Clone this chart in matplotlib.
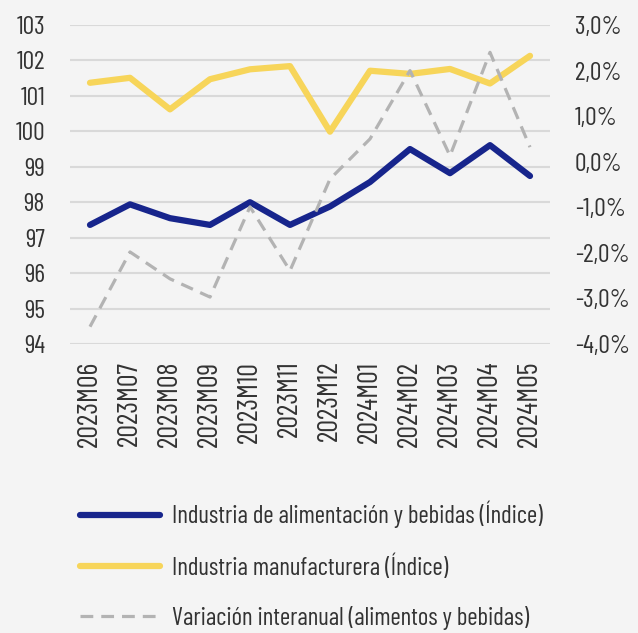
import matplotlib
matplotlib.use("Agg")
import matplotlib.pyplot as plt
from matplotlib.ticker import FuncFormatter

plt.rcParams['font.family'] = ['Barlow Condensed', 'DejaVu Sans']

meses = ['2023M06', '2023M07', '2023M08', '2023M09', '2023M10', '2023M11',
         '2023M12', '2024M01', '2024M02', '2024M03', '2024M04', '2024M05']
alimentacion = [97.36, 97.94, 97.55, 97.36, 98.00, 97.36,
                97.88, 98.57, 99.50, 98.82, 99.61, 98.74]
manufacturera = [101.37, 101.51, 100.62, 101.47, 101.75, 101.84,
                 99.99, 101.71, 101.62, 101.76, 101.35, 102.13]
variacion = [-3.62, -1.98, -2.57, -2.97, -0.99, -2.39,
             -0.38, 0.50, 2.00, 0.13, 2.40, 0.32]

bg = '#f4f4f4'
azul = '#17258c'
amarillo = '#f7d55a'
gris = '#b3b3b3'
texto = '#333333'
fs = 18.5

fig = plt.figure(figsize=(6.38, 6.33), dpi=100, facecolor=bg)
ax = fig.add_axes([70/638, 1-344/633, 480/638, 319/633], facecolor=bg)
ax2 = ax.twinx()

x = range(len(meses))
l1, = ax.plot(x, alimentacion, color=azul, lw=4.5, solid_capstyle='round', zorder=3)
l2, = ax.plot(x, manufacturera, color=amarillo, lw=4.5, solid_capstyle='round', zorder=3)
l3, = ax2.plot(x, variacion, color=gris, lw=2.3, dashes=(4, 2.5))

ax.set_ylim(94, 103)
ax.set_yticks(range(94, 104))
ax2.set_ylim(-4, 3)
ax2.set_yticks(range(-4, 4))
ax2.yaxis.set_major_formatter(FuncFormatter(lambda v, _: f'{v:.1f}%'.replace('.', ',')))
ax.set_xlim(-0.5, len(meses)-0.5)
ax.set_xticks(list(x))
ax.set_xticklabels(meses, rotation=90)

ax.grid(axis='y', color='#d9d9d9', lw=1.5)
ax.set_axisbelow(True)
for a in (ax, ax2):
    for s in a.spines.values():
        s.set_visible(False)
    a.tick_params(length=0, labelsize=fs, colors=texto)
ax.tick_params(axis='y', pad=18)
ax.tick_params(axis='x', pad=12, labelsize=20.5)
ax2.tick_params(axis='y', pad=18)

fig.legend([l1, l2, l3],
           ['Industria de alimentación y bebidas (Índice)',
            'Industria manufacturera (Índice)',
            'Variación interanual (alimentos y bebidas)'],
           loc='upper left', bbox_to_anchor=(80/638, 1-501/633), frameon=False,
           borderpad=0, borderaxespad=0,
           fontsize=18, handlelength=3.2, handletextpad=0.5, labelspacing=1.03,
           labelcolor=texto)

fig.savefig('out.png', dpi=100, facecolor=bg)
